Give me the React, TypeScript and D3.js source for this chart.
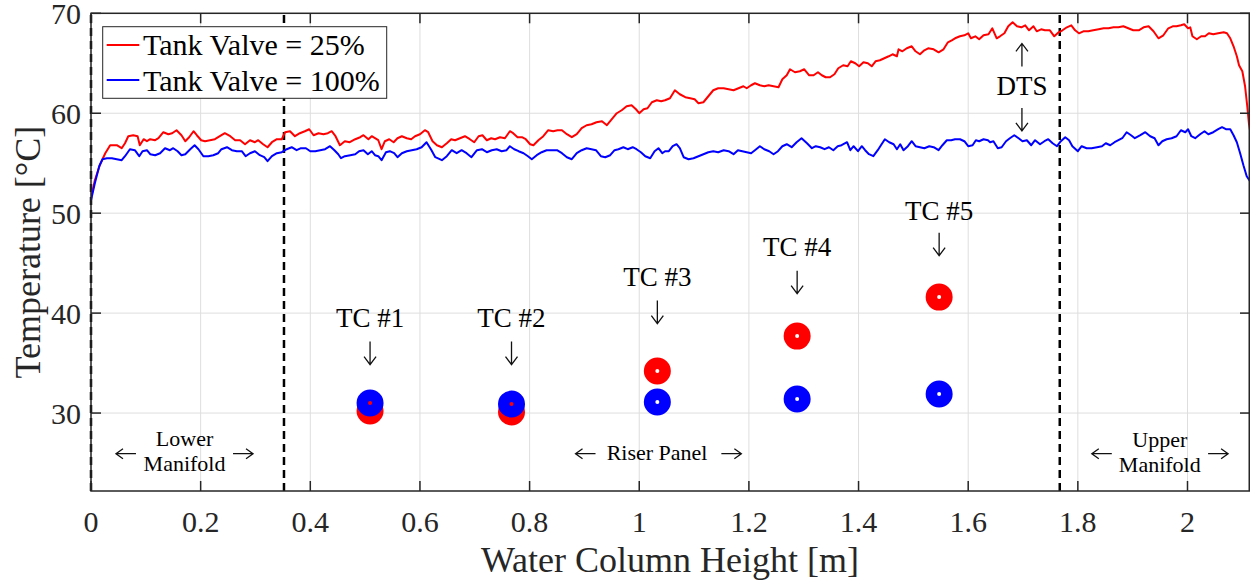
import React from 'react';
import * as d3 from 'd3';

type Pt = [number, number];

// Tank Valve = 25% (DTS profile) [height m, temperature °C]
const valve25: Pt[] = [
  [0,51.5],[0.007,53.3],[0.016,54.8],[0.026,56.0],[0.035,56.8],[0.047,56.8],[0.056,56.5],[0.062,57.0],[0.068,57.7],[0.077,57.8],
  [0.085,57.7],[0.089,56.8],[0.096,57.4],[0.102,57.2],[0.108,57.4],[0.117,57.3],[0.123,57.5],[0.132,58.1],[0.141,57.9],[0.148,58.0],
  [0.156,58.3],[0.165,57.8],[0.172,57.2],[0.179,57.6],[0.187,58.2],[0.193,57.8],[0.201,57.3],[0.208,57.2],[0.217,57.3],[0.226,57.4],
  [0.235,57.7],[0.244,58.0],[0.254,57.7],[0.263,57.3],[0.272,57.3],[0.281,56.9],[0.290,57.3],[0.299,57.1],[0.305,57.3],[0.314,56.9],
  [0.322,56.6],[0.330,57.1],[0.339,57.4],[0.348,57.4],[0.354,58.1],[0.363,58.2],[0.372,57.7],[0.381,58.0],[0.390,58.2],[0.398,58.4],
  [0.406,57.8],[0.415,58.0],[0.424,57.9],[0.432,58.0],[0.439,58.2],[0.446,57.7],[0.454,56.8],[0.463,57.2],[0.472,57.1],[0.482,57.4],
  [0.491,57.6],[0.497,57.8],[0.506,57.4],[0.512,57.7],[0.518,57.5],
  [0.524,57.3],[0.530,56.4],[0.536,57.2],[0.544,57.4],[0.552,57.1],[0.559,57.5],[0.567,57.7],[0.576,57.5],[0.584,57.4],[0.591,57.7],
  [0.600,57.9],[0.609,58.3],[0.615,58.1],[0.623,57.2],[0.631,56.8],[0.640,56.6],[0.649,57.0],[0.657,57.4],[0.664,57.3],[0.673,57.5],
  [0.682,57.7],[0.691,57.4],[0.699,57.1],[0.707,57.7],[0.714,57.8],[0.722,57.3],[0.730,57.5],[0.737,57.4],[0.746,57.6],[0.755,57.5],
  [0.764,58.2],[0.770,58.0],[0.778,57.6],[0.786,57.6],[0.793,57.4],[0.801,56.9],[0.807,56.8],[0.816,57.3],[0.825,57.7],[0.834,58.3],
  [0.843,58.2],[0.851,58.3],[0.859,58.3],[0.868,57.9],[0.877,57.6],[0.886,57.9],[0.895,58.5],[0.904,58.8],[0.913,58.9],[0.922,59.1],
  [0.932,59.2],[0.941,58.8],[0.950,59.4],[0.959,60.0],[0.968,60.3],[0.977,60.7],[0.986,60.8],[0.994,60.4],[1.000,60.0],[1.008,60.4],
  [1.015,60.5],[1.023,61.1],[1.032,61.3],[1.040,61.2],[1.047,61.3],
  [1.056,61.5],[1.065,62.3],[1.074,61.9],[1.084,61.6],[1.093,61.5],[1.101,61.4],[1.108,61.0],[1.117,61.1],[1.126,61.7],[1.135,62.3],
  [1.144,62.5],[1.154,62.5],[1.163,62.4],[1.172,62.3],[1.181,62.5],[1.190,62.7],[1.196,62.5],[1.204,62.8],[1.211,63.0],[1.220,62.8],
  [1.228,62.7],[1.236,62.8],[1.245,62.7],[1.254,62.6],[1.261,63.4],[1.269,63.8],[1.275,64.4],[1.284,64.1],[1.293,64.2],[1.301,64.4],
  [1.310,63.8],[1.318,63.8],[1.326,64.1],[1.333,63.8],[1.340,63.6],[1.348,63.6],[1.356,63.9],[1.363,64.5],[1.372,64.8],[1.380,64.7],
  [1.386,65.2],[1.394,65.0],[1.401,64.7],[1.409,65.1],[1.417,65.0],[1.424,64.7],[1.431,65.2],[1.439,65.3],[1.447,65.5],[1.455,65.7],
  [1.462,65.9],[1.470,65.7],[1.473,66.4],[1.480,66.2],[1.488,66.5],[1.497,66.7],[1.504,66.2],[1.512,65.9],[1.520,66.3],[1.527,66.5],
  [1.537,66.4],[1.546,66.1],[1.555,66.4],[1.563,67.1],[1.570,67.3],[1.576,67.5],
  [1.585,67.7],[1.593,67.8],[1.600,68.0],[1.605,67.5],[1.613,67.7],[1.620,67.4],[1.628,67.8],[1.637,67.9],[1.644,68.5],[1.652,67.5],
  [1.658,67.7],[1.666,68.0],[1.673,68.7],[1.681,69.1],[1.689,68.7],[1.697,68.6],[1.704,68.8],[1.711,68.3],[1.719,68.7],[1.725,68.2],
  [1.733,68.4],[1.740,68.3],[1.749,68.3],[1.757,67.7],[1.765,68.1],[1.772,68.3],[1.780,68.6],[1.788,68.8],[1.795,68.3],[1.802,68.0],
  [1.810,68.2],[1.819,68.2],[1.828,68.3],[1.838,68.4],[1.847,68.5],[1.856,68.5],[1.865,68.6],[1.874,68.6],[1.883,68.7],[1.892,68.5],
  [1.901,68.3],[1.911,68.3],[1.920,68.6],[1.929,68.7],[1.938,68.2],[1.947,67.5],[1.956,67.8],[1.965,68.5],[1.973,68.7],[1.980,68.7],
  [1.988,68.8],[1.994,68.9],[2.001,68.5],[2.005,68.6],[2.009,67.7],[2.017,67.4],[2.025,67.7],[2.032,67.7],[2.039,68.0],[2.047,67.9],
  [2.056,68.0],[2.066,68.1],[2.072,68.0],[2.078,67.5],[2.084,66.7],[2.090,65.7],[2.094,64.8],[2.100,64.2],[2.105,62.7],[2.109,60.7],
  [2.112,59.0],[2.114,58.3],
];

// Tank Valve = 100% (DTS profile) [height m, temperature °C]
const valve100: Pt[] = [
  [0,51.3],[0.007,53.0],[0.015,54.7],[0.021,55.4],[0.029,55.5],[0.038,55.5],[0.047,55.4],[0.056,55.3],[0.062,55.7],[0.071,56.4],
  [0.080,56.3],[0.088,55.7],[0.094,56.2],[0.102,56.3],[0.108,55.9],[0.117,55.8],[0.126,56.0],[0.135,56.5],[0.144,56.3],[0.150,56.5],
  [0.158,56.2],[0.165,55.8],[0.172,55.9],[0.181,56.4],[0.189,56.8],[0.196,56.4],[0.205,55.7],[0.214,55.7],[0.223,55.8],[0.232,56.0],
  [0.238,56.4],[0.248,56.6],[0.257,56.3],[0.266,56.2],[0.275,56.2],[0.282,55.7],[0.290,56.0],[0.299,56.2],[0.308,55.8],[0.316,55.6],
  [0.322,55.2],[0.330,55.7],[0.339,56.0],[0.348,56.1],[0.357,56.4],[0.366,56.6],[0.375,56.3],[0.383,56.5],[0.392,56.5],[0.400,56.2],
  [0.409,56.2],[0.418,56.3],[0.427,56.4],[0.436,56.7],[0.444,56.3],[0.451,55.9],[0.456,55.5],[0.463,55.7],[0.473,55.8],[0.482,55.9],
  [0.489,56.2],[0.497,56.3],[0.505,55.9],[0.512,56.2],[0.518,55.8],
  [0.524,55.7],[0.530,55.3],[0.538,56.1],[0.545,56.2],[0.553,56.0],[0.559,55.6],[0.567,56.0],[0.576,56.2],[0.585,56.3],[0.594,56.4],
  [0.603,56.6],[0.612,57.1],[0.620,56.4],[0.628,55.6],[0.640,55.3],[0.649,55.7],[0.658,56.3],[0.667,56.0],[0.676,56.3],[0.685,56.0],
  [0.694,55.6],[0.704,56.3],[0.713,56.4],[0.722,56.1],[0.731,56.3],[0.740,56.4],[0.749,56.2],[0.758,56.3],[0.764,56.7],[0.772,56.4],
  [0.780,56.2],[0.789,56.0],[0.797,55.7],[0.804,55.4],[0.813,55.8],[0.822,56.1],[0.831,56.3],[0.840,56.3],[0.850,56.3],[0.859,56.0],
  [0.868,55.6],[0.877,55.4],[0.886,56.0],[0.895,56.3],[0.904,56.5],[0.913,56.4],[0.921,56.3],[0.930,55.7],[0.938,55.6],[0.947,55.8],
  [0.955,56.3],[0.962,56.4],[0.971,56.6],[0.979,56.4],[0.988,56.6],[0.995,56.4],[1.003,56.1],[1.011,55.7],[1.020,55.5],[1.028,56.2],
  [1.035,56.5],[1.042,56.0],[1.047,56.2],
  [1.054,56.2],[1.061,56.7],[1.068,56.9],[1.074,56.5],[1.081,55.6],[1.090,55.4],[1.099,55.5],[1.108,55.7],[1.117,55.9],[1.126,56.1],
  [1.135,56.2],[1.144,56.1],[1.154,56.3],[1.163,56.2],[1.172,55.9],[1.180,56.3],[1.188,56.2],[1.196,56.1],[1.204,56.0],[1.211,56.3],
  [1.220,56.7],[1.228,56.4],[1.237,56.2],[1.245,55.9],[1.253,56.2],[1.261,56.7],[1.269,56.9],[1.278,56.6],[1.287,57.1],[1.296,57.5],
  [1.306,57.0],[1.315,56.5],[1.322,56.7],[1.330,56.6],[1.338,56.4],[1.346,56.6],[1.354,56.3],[1.362,56.7],[1.369,56.8],[1.379,57.1],
  [1.385,56.3],[1.391,56.7],[1.399,56.2],[1.406,56.7],[1.412,56.3],[1.419,55.9],[1.427,55.7],[1.435,56.3],[1.442,56.9],[1.448,57.4],
  [1.456,57.1],[1.464,56.9],[1.470,56.4],[1.476,56.9],[1.482,56.3],[1.490,56.7],[1.497,57.2],[1.504,56.7],[1.512,56.6],[1.520,56.5],
  [1.529,56.7],[1.537,56.6],[1.546,56.3],[1.553,56.8],[1.561,57.3],[1.569,57.3],[1.576,57.4],
  [1.585,57.4],[1.593,57.2],[1.600,56.7],[1.608,56.8],[1.614,57.3],[1.620,57.2],[1.628,57.4],[1.636,57.3],[1.640,57.1],[1.646,57.2],
  [1.654,56.5],[1.661,56.6],[1.669,57.2],[1.676,57.5],[1.684,57.8],[1.692,57.5],[1.699,57.2],[1.707,57.3],[1.715,56.8],[1.722,57.3],
  [1.731,56.9],[1.739,57.2],[1.746,57.4],[1.754,57.0],[1.762,56.7],[1.769,57.2],[1.777,57.6],[1.784,57.3],[1.790,56.7],[1.800,56.2],
  [1.807,56.7],[1.816,56.5],[1.825,56.5],[1.835,56.6],[1.844,56.7],[1.851,57.0],[1.859,56.8],[1.867,57.1],[1.874,57.3],[1.881,57.5],
  [1.889,58.1],[1.897,57.8],[1.904,57.5],[1.914,57.8],[1.923,58.1],[1.932,57.7],[1.940,57.5],[1.947,56.8],[1.954,57.2],[1.962,57.4],
  [1.971,57.5],[1.980,57.7],[1.988,58.3],[1.996,58.1],[2.001,58.4],[2.007,57.7],[2.014,57.5],[2.023,57.9],[2.031,58.2],[2.038,57.9],
  [2.047,58.1],[2.056,58.4],[2.063,58.6],[2.070,58.4],[2.078,58.4],[2.084,57.8],[2.090,57.1],[2.096,56.0],[2.102,54.8],[2.108,53.7],
  [2.114,53.2],
];

// Thermocouple readings
const tcHeights = [0.509, 0.767, 1.033, 1.288, 1.547];
const tcNames = ['TC #1', 'TC #2', 'TC #3', 'TC #4', 'TC #5'];
const tc25 = [30.2, 30.1, 34.2, 37.7, 41.6];
const tc100 = [31.0, 30.9, 31.1, 31.4, 31.9];
const tcLabelTemp = [38.6, 38.6, 42.7, 45.7, 49.3];
const tcArrowTemp = [36.0, 36.0, 40.1, 43.1, 46.9];

const xTicks = [0, 0.2, 0.4, 0.6, 0.8, 1, 1.2, 1.4, 1.6, 1.8, 2];
const yTicks = [30, 40, 50, 60, 70];
const sectionBounds = [0, 0.352, 1.767];

const legendItems = [
  { label: 'Tank Valve = 25%', color: '#ff0000' },
  { label: 'Tank Valve = 100%', color: '#0000ff' },
];

const FONT = "'Liberation Serif', 'Times New Roman', serif";
const AX = '#262626';

function arrowPath(cx: number, cy: number, dir: 'up' | 'down' | 'left' | 'right', len: number, hl: number, hw: number) {
  const h = len / 2;
  switch (dir) {
    case 'down':
      return `M${cx},${cy - h}V${cy + h}M${cx - hw},${cy + h - hl}L${cx},${cy + h}L${cx + hw},${cy + h - hl}`;
    case 'up':
      return `M${cx},${cy + h}V${cy - h}M${cx - hw},${cy - h + hl}L${cx},${cy - h}L${cx + hw},${cy - h + hl}`;
    case 'left':
      return `M${cx + h},${cy}H${cx - h}M${cx - h + hl},${cy - hw}L${cx - h},${cy}L${cx - h + hl},${cy + hw}`;
    default:
      return `M${cx - h},${cy}H${cx + h}M${cx + h - hl},${cy - hw}L${cx + h},${cy}L${cx + h - hl},${cy + hw}`;
  }
}

export default function App() {
  const W = 1250, H = 583;
  const x = d3.scaleLinear().domain([0, 2.114]).range([91, 1250]);
  const y = d3.scaleLinear().domain([22.2, 70]).range([491, 13.3]);
  const [x0, x1] = x.range();
  const [yb, yt] = y.range();
  const line = d3.line<Pt>().x(d => x(d[0])).y(d => y(d[1]));
  const tick = 10;

  const fmtX = (v: number) => (v === 0 ? '0' : String(+v.toFixed(1)));

  const vArrows: { cx: number; cy: number; dir: 'up' | 'down' }[] = [
    ...tcHeights.map((h, i) => ({ cx: x(h), cy: y(tcArrowTemp[i]), dir: 'down' as const })),
    { cx: x(1.698), cy: y(65.83), dir: 'up' },
    { cx: x(1.698), cy: y(59.38), dir: 'down' },
  ];
  const hArrows: { cx: number; dir: 'left' | 'right' }[] = [
    { cx: x(0.0638), dir: 'left' }, { cx: x(0.2773), dir: 'right' },
    { cx: x(0.902), dir: 'left' }, { cx: x(1.168), dir: 'right' },
    { cx: x(1.8437), dir: 'left' }, { cx: x(2.0558), dir: 'right' },
  ];
  const hArrowY = y(25.93);

  return (
    <svg width={W} height={H} style={{ position: 'absolute', left: 0, top: 0, background: '#fff' }} fontFamily={FONT}>
      <defs>
        <clipPath id="plotClip">
          <rect x={x0} y={yt} width={x1 - x0} height={yb - yt} />
        </clipPath>
      </defs>
      <rect x={0} y={0} width={W} height={H} fill="#fff" />
      {/* grid */}
      <g stroke="#dedede" strokeWidth={1}>
        {xTicks.map(t => <line key={'gx' + t} x1={x(t)} x2={x(t)} y1={yb} y2={yt} />)}
        {yTicks.map(t => <line key={'gy' + t} x1={x0} x2={x1} y1={y(t)} y2={y(t)} />)}
      </g>
      {/* section boundaries */}
      <g stroke="#000" strokeWidth={2.5} strokeDasharray="8,5">
        {sectionBounds.map(b => <line key={'sb' + b} x1={x(b)} x2={x(b)} y1={yb} y2={yt} />)}
      </g>
      {/* DTS lines */}
      <g clipPath="url(#plotClip)" fill="none" strokeWidth={2} strokeLinejoin="round">
        <path d={line(valve25) || ''} stroke="#ff0000" />
        <path d={line(valve100) || ''} stroke="#0000ff" />
      </g>
      {/* TC markers */}
      <g fill="none" strokeWidth={11.5}>
        {tcHeights.map((h, i) => <circle key={'r' + i} cx={x(h)} cy={y(tc25[i])} r={7.75} stroke="#ff0000" />)}
        {tcHeights.map((h, i) => <circle key={'b' + i} cx={x(h)} cy={y(tc100[i])} r={7.75} stroke="#0000ff" />)}
      </g>
      {/* annotations */}
      <g fill="#000" textAnchor="middle" fontSize={27}>
        {tcHeights.map((h, i) => (
          <text key={'tc' + i} x={x(h)} y={y(tcLabelTemp[i])}>{tcNames[i]}</text>
        ))}
        <text x={x(1.698)} y={y(61.8)}>DTS</text>
      </g>
      <g fill="none" stroke="#111" strokeWidth={1.3}>
        {vArrows.map((a, i) => <path key={'va' + i} d={arrowPath(a.cx, a.cy, a.dir, 23, 8, 6)} />)}
        {hArrows.map((a, i) => <path key={'ha' + i} d={arrowPath(a.cx, hArrowY, a.dir, 20, 7, 5)} />)}
      </g>
      {/* section labels */}
      <g fill="#000" textAnchor="middle" fontSize={22}>
        <text x={x(0.1706)} y={y(26.66)}>Lower</text>
        <text x={x(0.1706)} y={y(24.16)}>Manifold</text>
        <text x={x(1.0325)} y={y(25.3)}>Riser Panel</text>
        <text x={x(1.9495)} y={y(26.63)}>Upper</text>
        <text x={x(1.9495)} y={y(24.1)}>Manifold</text>
      </g>
      {/* axes box and ticks */}
      <g stroke={AX} strokeWidth={1.5} fill="none">
        <rect x={x0} y={yt} width={x1 - x0 - 0.75} height={yb - yt} />
        {xTicks.map(t => (
          <g key={'tx' + t}>
            <line x1={x(t)} x2={x(t)} y1={yb} y2={yb - tick} />
            <line x1={x(t)} x2={x(t)} y1={yt} y2={yt + tick} />
          </g>
        ))}
        {yTicks.map(t => (
          <g key={'ty' + t}>
            <line x1={x0} x2={x0 + tick} y1={y(t)} y2={y(t)} />
            <line x1={x1} x2={x1 - tick} y1={y(t)} y2={y(t)} />
          </g>
        ))}
      </g>
      <g fill={AX} fontSize={30}>
        {xTicks.map(t => (
          <text key={'lx' + t} x={x(t)} y={yb + 41} textAnchor="middle">{fmtX(t)}</text>
        ))}
        {yTicks.map(t => (
          <text key={'ly' + t} x={x0 - 10} y={y(t) + 11} textAnchor="end">{t}</text>
        ))}
      </g>
      <text x={670} y={572} textAnchor="middle" fontSize={36} fill={AX}>Water Column Height [m]</text>
      <text transform={`translate(40,${(yt + yb) / 2}) rotate(-90)`} textAnchor="middle" fontSize={36} fill={AX}>Temperature [°C]</text>
      {/* legend */}
      <g>
        <rect x={102.7} y={26.7} width={284} height={71.6} fill="#fff" stroke={AX} strokeWidth={1} />
        {legendItems.map((it, i) => (
          <g key={it.label}>
            <line x1={106.7} x2={139.3} y1={45 + i * 35} y2={45 + i * 35} stroke={it.color} strokeWidth={2} />
            <text x={143} y={55 + i * 35.5} fontSize={30} fill="#000">{it.label}</text>
          </g>
        ))}
      </g>
    </svg>
  );
}
